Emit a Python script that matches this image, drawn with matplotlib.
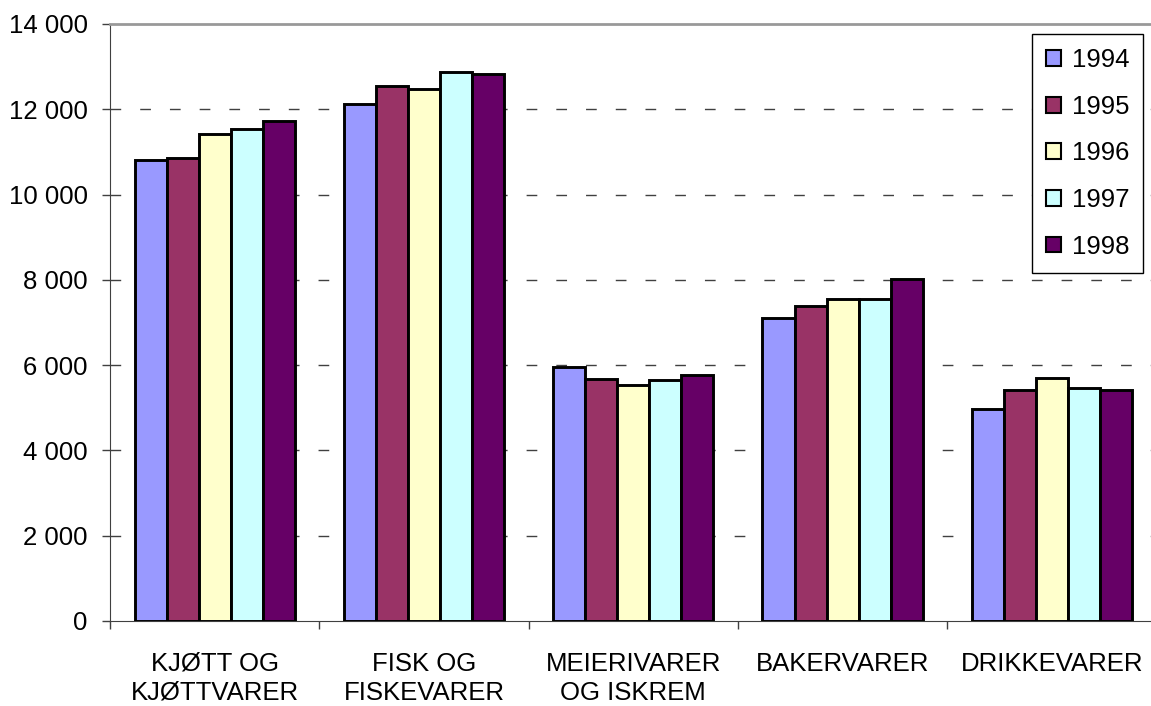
import matplotlib
matplotlib.use("Agg")
import matplotlib.pyplot as plt
from matplotlib.patches import Patch
import numpy as np

plt.rcParams['font.family'] = ['Liberation Sans', 'DejaVu Sans']

categories = ["KJØTT OG\nKJØTTVARER", "FISK OG\nFISKEVARER", "MEIERIVARER\nOG ISKREM",
              "BAKERVARER", "DRIKKEVARER"]
years = ["1994", "1995", "1996", "1997", "1998"]
v1994 = [10800, 12120, 5950, 7100, 4960]
v1995 = [10850, 12540, 5670, 7390, 5425]
v1996 = [11430, 12470, 5540, 7555, 5705]
v1997 = [11530, 12870, 5660, 7555, 5470]
v1998 = [11715, 12820, 5780, 8020, 5425]
yticks = [0, 2000, 4000, 6000, 8000, 10000, 12000, 14000]
ytick_labels = ["0", "2 000", "4 000", "6 000", "8 000", "10 000", "12 000", "14 000"]

colors = ["#9999FF", "#993366", "#FFFFCC", "#CCFFFF", "#660066"]
series = [v1994, v1995, v1996, v1997, v1998]

fig = plt.figure(figsize=(11.51, 7.06), dpi=100)
ax = fig.add_axes([110 / 1151, 1 - 621 / 706, 1046.5 / 1151, 597 / 706])

x = np.arange(len(categories))
w = 0.153
for i, vals in enumerate(series):
    ax.bar(x + (i - 2) * w, vals, width=w, color=colors[i], edgecolor="black",
           linewidth=2.1, zorder=3)

ax.set_xlim(-0.5, len(categories) - 0.5)
ax.set_ylim(0, 14000)
ax.set_yticks(yticks)
ax.set_yticklabels(ytick_labels, fontsize=18.5)
ax.set_xticks(x)
ax.set_xticklabels(categories, fontsize=18.5, linespacing=1.27)
ax.set_xticks(np.arange(len(categories) + 1) - 0.5, minor=True)
ax.tick_params(axis="x", which="major", length=0, pad=22)
ax.tick_params(axis="x", which="minor", length=6, width=1, color="#404040")
ax.tick_params(axis="y", length=6, width=1, color="#404040", pad=10)

# dashed horizontal gridlines
for yv in yticks[1:-1]:
    ax.axhline(yv, color="#404040", linewidth=1, linestyle=(0, (7.7, 13.7)),
               zorder=1)

ax.spines["left"].set_color("#404040")
ax.spines["bottom"].set_color("#404040")
ax.spines["top"].set_color("#999999")
ax.spines["top"].set_linewidth(2)
ax.spines["right"].set_visible(False)

handles = [Patch(facecolor=c, edgecolor="black", linewidth=1.5) for c in colors]
leg = ax.legend(handles, years, loc="upper left",
                bbox_to_anchor=(1032 / 1151, 1 - 34 / 706),
                bbox_transform=fig.transFigure, borderaxespad=0,
                fontsize=18.5, fancybox=False, framealpha=1,
                edgecolor="black", handlelength=0.58, handleheight=0.58,
                handletextpad=0.42, labelspacing=0.88, borderpad=0.55)
leg.get_frame().set_linewidth(1)

fig.savefig("out.png", dpi=100)
